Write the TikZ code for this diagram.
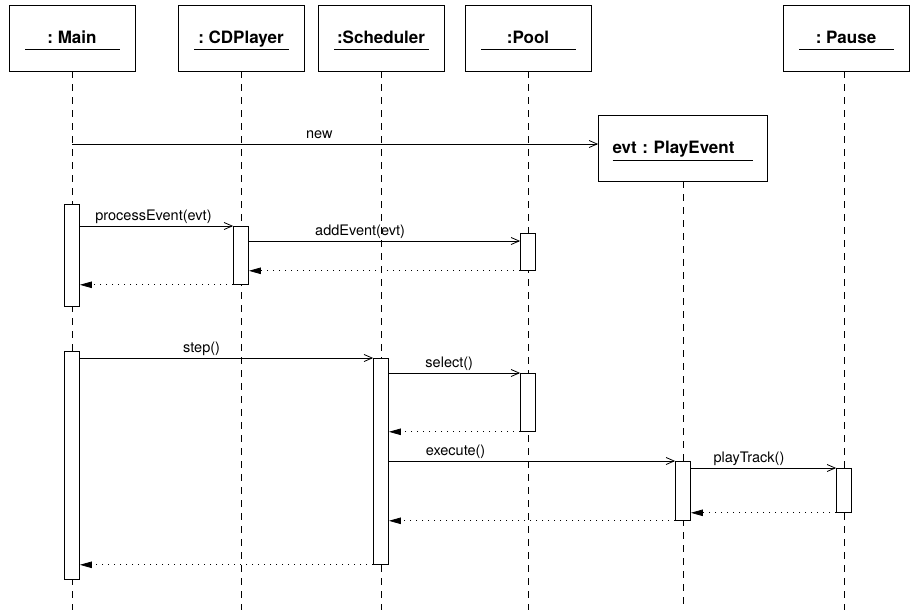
\documentclass[tikz,border=0pt]{standalone}
\usepackage{fontspec}
\setmainfont{TeX Gyre Heros}
\frenchspacing
\usetikzlibrary{arrows.meta,positioning}
\tikzset{
    obj/.style={
    rectangle,draw=black,fill=white,line width=0.8pt,minimum width=126pt,minimum height=66pt,
    font=\bfseries\fontsize{17}{20}\selectfont,text height=12.5pt,text depth=2pt,
    path picture={\draw[line width=0.8pt] ([xshift=16pt,yshift=-11pt]path picture bounding box.west) -- ([xshift=-15pt,yshift=-11pt]path picture bounding box.east);}
    },
    act/.style={
    rectangle,draw=black,fill=white,line width=0.8pt,minimum width=15pt,inner sep=0pt,anchor=north
    },
    life/.style={
    line width=0.8pt,dash pattern=on 7pt off 6pt
    },
    call/.style={
    line width=0.8pt,-{Straight Barb[length=8pt,width=7pt]}
    },
    ret/.style={
    line width=0.8pt,dash pattern=on 1.5pt off 4.5pt,-{Triangle[length=12pt,width=6.5pt]}
    },
    lbl/.style={
    font=\fontsize{14.5}{17}\selectfont,above,inner sep=2.5pt,text depth=3pt
    },
}

\begin{document}
\begin{tikzpicture}[x=1pt,y=-1pt]
   \useasboundingbox (0,0) rectangle (910,610);

   \node[obj] (main) at (72,38) {: Main};
   \node[obj] (cd) at (241,38) {: CDPlayer};
   \node[obj] (sch) at (381,38) {:Scheduler};
   \node[obj] (pool) at (528,38) {:Pool};
   \node[obj] (pause) at (846,38) {: Pause};
   \node[obj,minimum width=169pt,text width=141pt,inner xsep=14pt,align=left,
     path picture={\draw[line width=0.8pt] ([xshift=14pt,yshift=-12pt]path picture bounding box.west) -- ([xshift=-15pt,yshift=-12pt]path picture bounding box.east);}]
     (evt) at (683,148) {evt : PlayEvent};

   \path[life]
    (main.south) edge (main.south |- 0,610)
    (cd.south) edge (cd.south |- 0,610)
    (sch.south) edge (sch.south |- 0,610)
    (pool.south) edge (pool.south |- 0,610)
    (evt.south) edge (evt.south |- 0,610)
    (pause.south -| 844,0) edge (844,610);

   \node[act,minimum height=102pt] (mainA1) at (72,204) {};
   \node[act,minimum height=58pt] (cdA1) at (241,226) {};
   \node[act,minimum height=37pt] (poolA1) at (528,233) {};
   \node[act,minimum height=228pt] (mainA2) at (72,351) {};
   \node[act,minimum height=206pt] (schA) at (381,358) {};
   \node[act,minimum height=58pt] (poolA2) at (528,373) {};
   \node[act,minimum height=59pt] (evtA) at (683,461) {};
   \node[act,minimum height=44pt] (pauseA) at (844,468) {};

  \path[call]
    (main |- 0,144) edge node[lbl,pos=0.47] {new} (evt.west |- 0,144)
    (mainA1.east |- cdA1.north) edge node[lbl,pos=0.48] {processEvent(evt)} (cdA1.north west)
    (cdA1.east |- 0,241) edge node[lbl,pos=0.41] {addEvent(evt)} (poolA1.west |- 0,241)
    (mainA2.east |- schA.north) edge node[lbl,pos=0.415] {step()} (schA.north west)
    (schA.east |- poolA2.north) edge node[lbl,pos=0.46] {select()} (poolA2.north west)
    (schA.east |- evtA.north) edge node[lbl,pos=0.233] {execute()} (evtA.north west)
    (evtA.east |- pauseA.north) edge node[lbl,pos=0.40] {playTrack()} (pauseA.north west);

  \path[ret]
    (poolA1.south west) edge (cdA1.east |- poolA1.south)
    (cdA1.south west) edge (mainA1.east |- cdA1.south)
    (poolA2.south west) edge (schA.east |- poolA2.south)
    (pauseA.south west) edge (evtA.east |- pauseA.south)
    (evtA.south west) edge (schA.east |- evtA.south)
    (schA.south west) edge (mainA2.east |- schA.south);
\end{tikzpicture}
\end{document}
